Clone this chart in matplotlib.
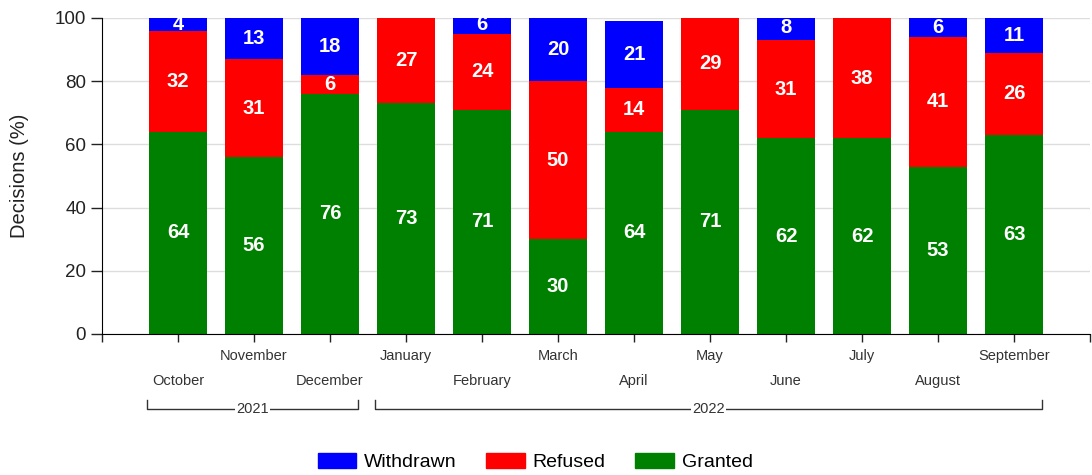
import matplotlib
matplotlib.use("Agg")
import matplotlib.pyplot as plt
import matplotlib.transforms as mtransforms
from matplotlib.patches import Patch
import numpy as np

# data (percent of decisions)
months = ["October", "November", "December", "January", "February", "March",
          "April", "May", "June", "July", "August", "September"]
granted = [64, 56, 76, 73, 71, 30, 64, 71, 62, 62, 53, 63]
refused = [32, 31, 6, 27, 24, 50, 14, 29, 31, 38, 41, 26]
withdrawn = [4, 13, 18, 0, 6, 20, 21, 0, 8, 0, 6, 11]
years = ["2021", "2022"]
year_months = [3, 9]  # number of months in each year group

plt.rcParams['font.family'] = ['Liberation Sans', 'DejaVu Sans']

fig = plt.figure(figsize=(10.92, 4.75), dpi=100)
ax = fig.add_axes([102/1092, 1-334/475, 988/1092, 316/475])

x = np.arange(1, len(months)+1)
w = 0.77
g = np.array(granted)
r = np.array(refused)
wd = np.array(withdrawn)

ax.bar(x, g, w, color='#008000', zorder=2)
ax.bar(x, r, w, bottom=g, color='#ff0000', zorder=2)
ax.bar(x, wd, w, bottom=g+r, color='#0000ff', zorder=2)

"value labels in the middle of each segment"
for i in range(len(months)):
    bottoms = [0, g[i], g[i]+r[i]]
    vals = [g[i], r[i], wd[i]]
    for b, v in zip(bottoms, vals):
        if v > 0:
            ax.text(x[i], min(b + v/2, 98), str(v), ha='center', va='center',
                    color='white', fontsize=14.5, fontweight='bold', zorder=3)

ax.set_xlim(0, 13)
ax.set_ylim(0, 100)
ax.set_xticks(np.arange(0, 14))
ax.set_xticklabels([])
ax.set_yticks([0, 20, 40, 60, 80, 100])
ax.tick_params(axis='y', labelsize=13.5, length=8, width=1, colors='#222222')
ax.tick_params(axis='x', length=6, width=1, colors='#222222')
ax.grid(axis='y', color='#dddddd', lw=1, zorder=0)
ax.spines['top'].set_visible(False)
ax.spines['right'].set_visible(False)
ax.set_ylabel('Decisions (%)', fontsize=14.5, color='#222222')
ax.yaxis.set_label_coords(-0.074, 0.5)

trans = mtransforms.blended_transform_factory(ax.transData, ax.transAxes)

"staggered month labels"
for i, m in enumerate(months):
    yy = -0.149 if i % 2 == 0 else -0.07
    ax.text(x[i], yy, m, transform=trans, ha='center', va='center',
            fontsize=10.5, color='#333333')

"year brackets"
start = 1
for yr, n in zip(years, year_months):
    x0 = start - w/2 - 0.02
    x1 = start + n - 1 + w/2 - 0.02
    ax.plot([x0, x0, x1, x1], [-0.209, -0.237, -0.237, -0.209], transform=trans,
            color='#333333', lw=1, clip_on=False)
    ax.text((x0+x1)/2, -0.237, yr, transform=trans, ha='center', va='center',
            fontsize=10.5, color='#333333',
            bbox=dict(facecolor='white', edgecolor='none', pad=1))
    start += n

handles = [Patch(color='#0000ff', label='Withdrawn'),
           Patch(color='#ff0000', label='Refused'),
           Patch(color='#008000', label='Granted')]
fig.legend(handles=handles, loc='center', bbox_to_anchor=(0.49, 0.027), ncol=3,
           frameon=False, fontsize=14, handlelength=2.0, handleheight=0.85,
           handletextpad=0.4, columnspacing=1.5)

fig.savefig('out.png', dpi=100)
